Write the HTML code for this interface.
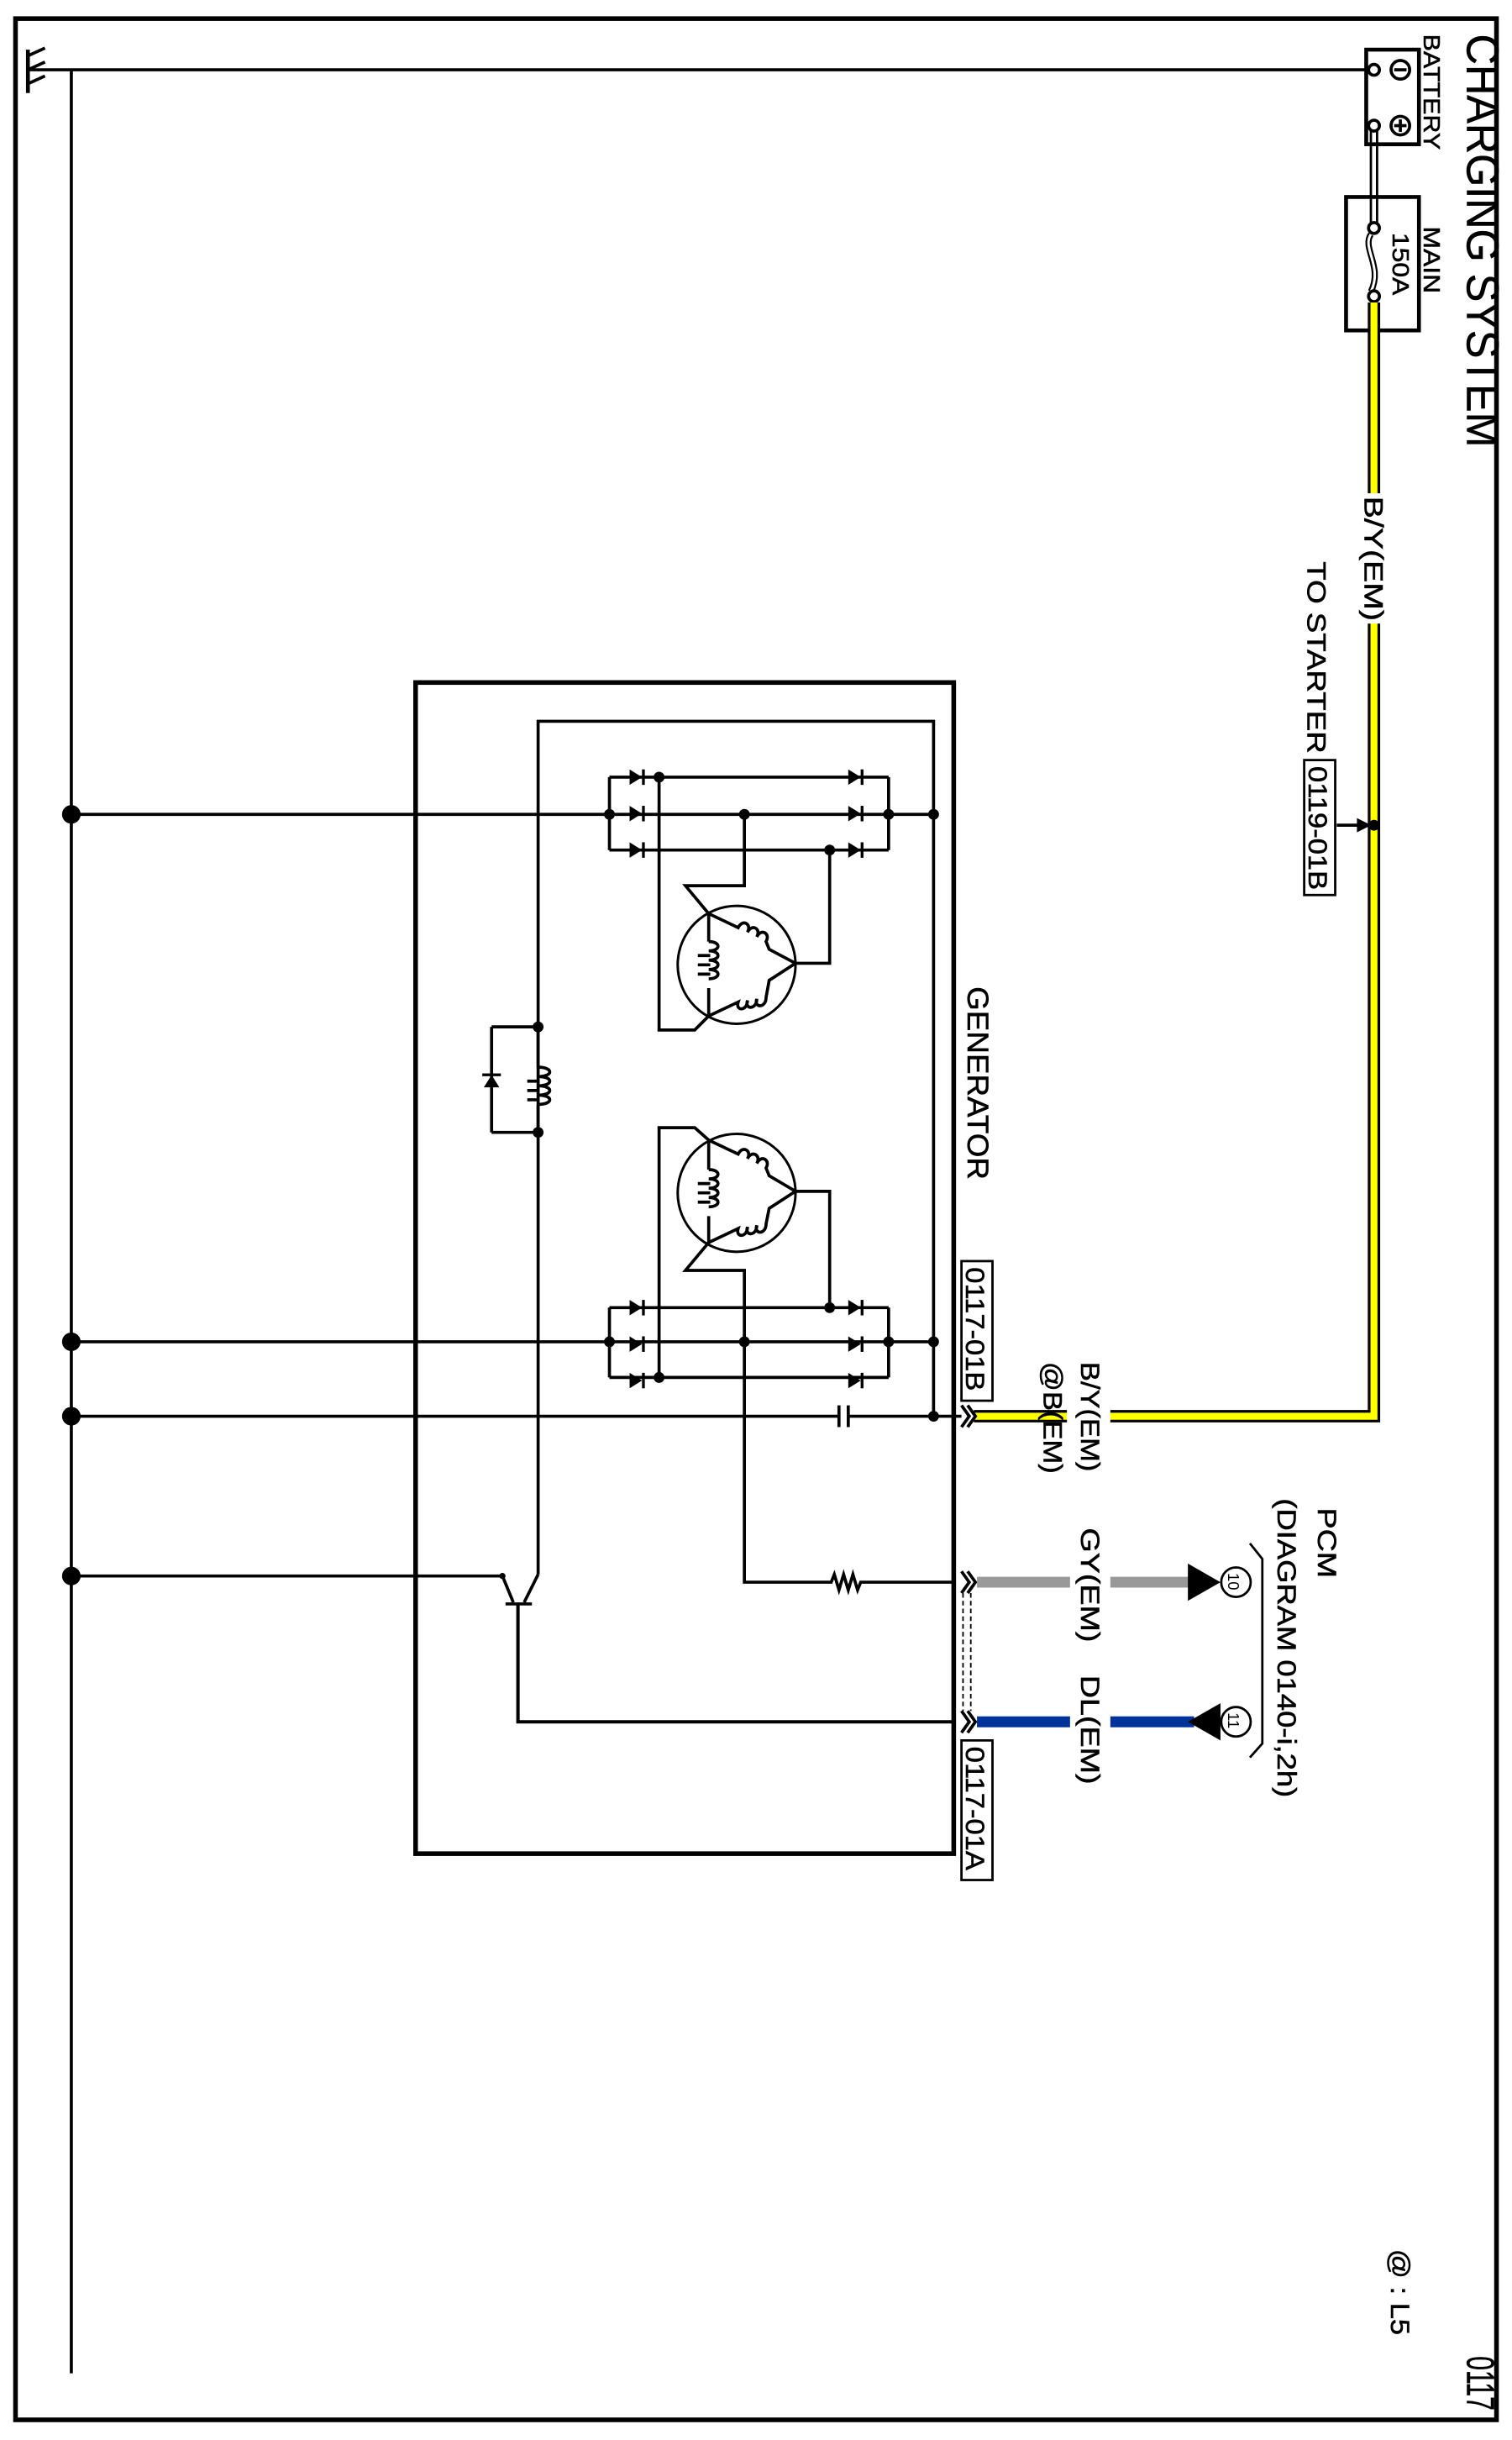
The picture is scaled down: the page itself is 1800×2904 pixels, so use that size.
<!DOCTYPE html>
<html><head><meta charset="utf-8"><style>
html,body{margin:0;padding:0;background:#fff}
svg{display:block}
text{font-family:"Liberation Sans",Arial,sans-serif;fill:#000;stroke:#000;stroke-width:0.3}
</style></head><body>
<svg width="1800" height="2904" viewBox="0 0 975 1573" preserveAspectRatio="none" xmlns="http://www.w3.org/2000/svg">
<rect x="0" y="0" width="975" height="1573" fill="#fff"/>
<rect x="10" y="12" width="955" height="1548" fill="none" stroke="#000" stroke-width="3"/>
<g stroke="#000" fill="none" stroke-width="2">
<line x1="18" y1="45" x2="46" y2="45"/>
<line x1="18" y1="32" x2="18" y2="60" stroke-width="2.5"/>
<line x1="18" y1="36" x2="29" y2="31"/><line x1="18" y1="45" x2="29" y2="40"/><line x1="18" y1="54" x2="29" y2="49"/>
<line x1="46" y1="45" x2="46" y2="1530"/>
<line x1="46" y1="45" x2="882" y2="45"/>
<rect x="881" y="32" width="34" height="61" stroke-width="2.5"/>
<circle cx="903" cy="45" r="6"/><line x1="899" y1="45" x2="907" y2="45"/>
<circle cx="903" cy="81" r="6"/><line x1="899" y1="81" x2="907" y2="81"/><line x1="903" y1="77" x2="903" y2="85"/>
<circle cx="886" cy="45" r="3.5" fill="#fff"/>
<circle cx="886" cy="81" r="3.5" fill="#fff"/>
<line x1="884" y1="84" x2="884" y2="144" stroke-width="1.5"/><line x1="888" y1="84" x2="888" y2="144" stroke-width="1.5"/>
<rect x="868" y="127" width="47" height="86" stroke-width="2.5"/>
<path d="M884 151 C878 160,892 172,884 188" stroke-width="4"/>
<path d="M884 151 C878 160,892 172,884 188" stroke="#fff" stroke-width="1.6"/>
<circle cx="886" cy="147" r="3.5" fill="#fff"/>
<circle cx="886" cy="191" r="3.5" fill="#fff"/>
</g>
<path d="M886 195 L886 913 L628 913" fill="none" stroke="#000" stroke-width="8"/>
<path d="M886 195 L886 913 L628 913" fill="none" stroke="#ffff00" stroke-width="4.5"/>
<rect x="876" y="318" width="20" height="84" fill="#fff"/>
<rect x="688" y="903" width="28" height="20" fill="#fff"/>
<g stroke="#000" fill="none" stroke-width="2">
<circle cx="886" cy="532" r="2.5" fill="#000"/>
<line x1="862" y1="532" x2="880" y2="532"/>
<path d="M876 529 L882 532 L876 535 Z" fill="#000"/>
<rect x="841" y="490" width="20" height="87" stroke-width="1.5"/>
<rect x="268" y="440" width="347" height="755" stroke-width="3"/>
<path d="M347 1015 L347 465 L602 465 L602 913"/>
<line x1="46" y1="525" x2="602" y2="525"/>
<line x1="393" y1="501" x2="573" y2="501"/>
<line x1="393" y1="548" x2="573" y2="548"/>
<line x1="393" y1="501" x2="393" y2="548"/>
<line x1="573" y1="501" x2="573" y2="548"/>
<line x1="46" y1="865" x2="602" y2="865"/>
<line x1="393" y1="843" x2="573" y2="843"/>
<line x1="393" y1="888" x2="573" y2="888"/>
<line x1="393" y1="843" x2="393" y2="888"/>
<line x1="573" y1="843" x2="573" y2="888"/>
<circle cx="475" cy="622" r="38" stroke-width="1.6"/>
<path d="M425 501 L425 664 L448 664 L457 655"/>
<path d="M480 525 L480 571 L442 571 L457 589"/>
<path d="M535 548 L535 621 L513 621"/>
<path d="M457 589 L457 607 M457 637 L457 655"/>
<path d="M457 607 c8 0,8 6,0 6 c8 0,8 6,0 6 c8 0,8 6,0 6 c8 0,8 6,0 6 M450 616 l8 0 M450 622 l8 0 M450 628 l8 0"/>
<path d="M457 589 L476 598 c3 -6,9 -2,6 3 c3 -6,9 -2,6 3 c3 -6,9 -2,6 3 L496 612 L513 621"/>
<path d="M457 655 L476 646 c-2 6,6 6,6 -1 c-2 6,6 6,6 -1 c-2 6,6 6,6 -1 L496 632 L513 621"/>
<circle cx="475" cy="769" r="38" stroke-width="1.6"/>
<path d="M425 888 L425 727 L448 727 L457 735"/>
<path d="M480 865 L480 819 L442 819 L457 801"/>
<path d="M535 843 L535 768 L513 768"/>
<path d="M457 735 L457 754 M457 784 L457 801"/>
<path d="M457 754 c8 0,8 6,0 6 c8 0,8 6,0 6 c8 0,8 6,0 6 c8 0,8 6,0 6 M450 763 l8 0 M450 769 l8 0 M450 775 l8 0"/>
<path d="M457 735 L476 744 c3 -6,9 -2,6 3 c3 -6,9 -2,6 3 c3 -6,9 -2,6 3 L496 758 L513 768"/>
<path d="M457 801 L476 792 c-2 6,6 6,6 -1 c-2 6,6 6,6 -1 c-2 6,6 6,6 -1 L496 779 L513 768"/>
<path d="M317 662 L347 662 M317 730 L347 730 M317 662 L317 730"/>
<path d="M347 662 L347 688 M347 712 L347 730"/>
<path d="M347 688 c10 0,10 6,0 6 c10 0,10 6,0 6 c10 0,10 6,0 6 c10 0,10 6,0 6 M340 697 l8 0 M340 703 l8 0 M340 709 l8 0"/>
<line x1="46" y1="913" x2="541" y2="913"/>
<line x1="547" y1="913" x2="620" y2="913"/>
<line x1="541" y1="906" x2="541" y2="920"/><line x1="547" y1="906" x2="547" y2="920"/>
<path d="M480 865 L480 1020 L536 1020 l2 -5 l3 10 l3 -10 l3 10 l3 -10 l3 10 l2 -5 L615 1020"/>
<line x1="46" y1="1016" x2="324" y2="1016"/>
<path d="M347 1015 L338 1033"/>
<path d="M324 1016 L331 1033"/>
<line x1="326" y1="1034" x2="343" y2="1034"/>
<path d="M334 1034 L334 1110 L615 1110" stroke-width="2.2"/>
<path d="M620 906 l5 7 l-5 7 M624 906 l5 7 l-5 7"/>
<path d="M620 1013 l5 7 l-5 7 M624 1013 l5 7 l-5 7"/>
<path d="M620 1103 l5 7 l-5 7 M624 1103 l5 7 l-5 7"/>
<line x1="621" y1="1027" x2="621" y2="1103" stroke-dasharray="3 2" stroke-width="1"/>
<line x1="626" y1="1027" x2="626" y2="1103" stroke-dasharray="3 2" stroke-width="1"/>
<rect x="620" y="813" width="20" height="90" stroke-width="1.5"/>
<rect x="620" y="1122" width="20" height="90" stroke-width="1.5"/>
<path d="M806 995 L814 1005 L814 1124 L806 1133" stroke-width="1.5"/>
<circle cx="797" cy="1020" r="9.5" stroke-width="1.5"/>
<circle cx="797" cy="1110" r="9.5" stroke-width="1.5"/>
</g>
<line x1="630" y1="1020" x2="690" y2="1020" stroke="#999" stroke-width="7"/>
<line x1="716" y1="1020" x2="768" y2="1020" stroke="#999" stroke-width="7"/>
<line x1="630" y1="1110" x2="690" y2="1110" stroke="#003399" stroke-width="7"/>
<line x1="716" y1="1110" x2="770" y2="1110" stroke="#003399" stroke-width="7"/>
<path d="M766 1008 L787 1020 L766 1032 Z" fill="#000"/>
<path d="M787 1098 L766 1110 L787 1122 Z" fill="#000"/>
<g fill="#000">
<circle cx="46" cy="525" r="6"/><circle cx="46" cy="865" r="6"/><circle cx="46" cy="913" r="6"/><circle cx="46" cy="1016" r="6"/>
<circle cx="393" cy="525" r="3.5"/><circle cx="573" cy="525" r="3.5"/><circle cx="602" cy="525" r="3.5"/>
<circle cx="425" cy="501" r="3.5"/><circle cx="480" cy="525" r="3.5"/><circle cx="535" cy="548" r="3.5"/>
<circle cx="393" cy="865" r="3.5"/><circle cx="573" cy="865" r="3.5"/><circle cx="602" cy="865" r="3.5"/>
<circle cx="535" cy="843" r="3.5"/><circle cx="480" cy="865" r="3.5"/><circle cx="425" cy="888" r="3.5"/>
<circle cx="602" cy="913" r="3.5"/>
<circle cx="347" cy="662" r="3.5"/><circle cx="347" cy="730" r="3.5"/>
<circle cx="324" cy="1016" r="2"/>
<g id="d">
<path d="M406 496 L414 501 L406 506 Z"/><rect x="414" y="496" width="1.8" height="10"/>
<path d="M406 519.5 L414 524.5 L406 529.5 Z"/><rect x="414" y="519.5" width="1.8" height="10"/>
<path d="M406 543 L414 548 L406 553 Z"/><rect x="414" y="543" width="1.8" height="10"/>
<path d="M547 496 L555 501 L547 506 Z"/><rect x="555" y="496" width="1.8" height="10"/>
<path d="M547 519.5 L555 524.5 L547 529.5 Z"/><rect x="555" y="519.5" width="1.8" height="10"/>
<path d="M547 543 L555 548 L547 553 Z"/><rect x="555" y="543" width="1.8" height="10"/>
</g>
<use href="#d" transform="translate(0,342)"/>
<path d="M312 701 L317 693 L322 701 Z"/><rect x="311" y="692" width="12" height="1.8"/>
</g>
<text transform="translate(946,22) rotate(90) scale(0.94,1)" font-size="29">CHARGING SYSTEM</text>
<text transform="translate(946,1519) rotate(90) scale(0.65,1)" font-size="25">0117</text>
<g font-size="17">
<text transform="translate(897,1450) rotate(90) scale(1.1,1)">@ : L5</text>
<text transform="translate(918,22) rotate(90) scale(1.1,1)" font-size="15">BATTERY</text>
<text transform="translate(918,146) rotate(90) scale(1.15,1)" font-size="15">MAIN</text>
<text transform="translate(898,150) rotate(90) scale(1.15,1)" font-size="15">150A</text>
<text transform="translate(880,320) rotate(90) scale(1.25,1)">B/Y(EM)</text>
<text transform="translate(843,362) rotate(90) scale(1.17,1)">TO STARTER</text>
<text transform="translate(844,494) rotate(90) scale(1.1,1)">0119-01B</text>
<text transform="translate(624,636) rotate(90) scale(1.05,1)" font-size="19">GENERATOR</text>
<text transform="translate(623,817) rotate(90) scale(1.1,1)">0117-01B</text>
<text transform="translate(623,1126) rotate(90) scale(1.1,1)">0117-01A</text>
<text transform="translate(697,878) rotate(90) scale(1.1,1)">B/Y(EM)</text>
<text transform="translate(673,878) rotate(90) scale(1.1,1)">@B(EM)</text>
<text transform="translate(697,985) rotate(90) scale(1.2,1)">GY(EM)</text>
<text transform="translate(697,1080) rotate(90) scale(1.2,1)">DL(EM)</text>
<text transform="translate(850,972) rotate(90) scale(1.2,1)">PCM</text>
<text transform="translate(824,966) rotate(90) scale(1.16,1)">(DIAGRAM 0140-i,2h)</text>
<text transform="translate(792,1014) rotate(90)" font-size="10" style="stroke-width:0">10</text>
<text transform="translate(792,1104) rotate(90)" font-size="10" style="stroke-width:0">11</text>
</g>
</svg>
</body></html>
